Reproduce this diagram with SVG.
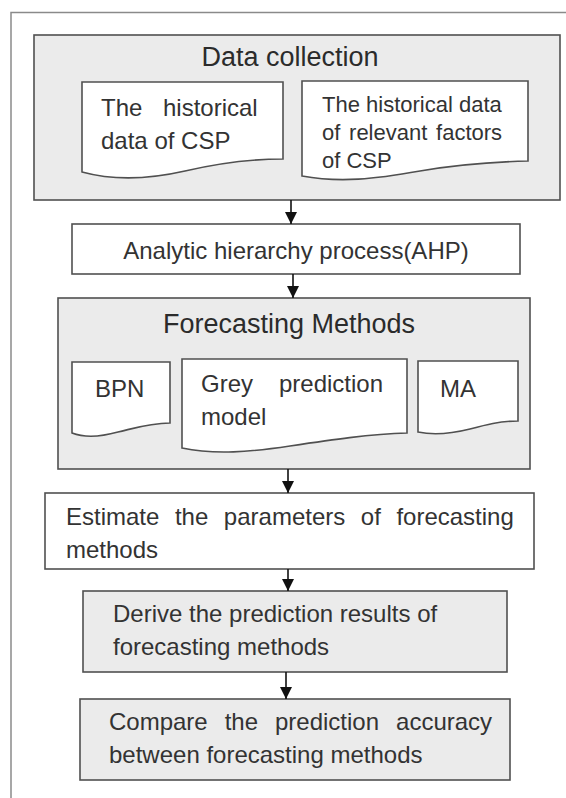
<svg xmlns="http://www.w3.org/2000/svg" width="566" height="798" viewBox="0 0 566 798">
  <style>
    .frame { fill: none; stroke: #8a8a8a; stroke-width: 1.5; }
    .group { fill: #ebebeb; stroke: #505050; stroke-width: 1.6; }
    .box { fill: #ffffff; stroke: #505050; stroke-width: 1.6; }
    .step { fill: #ebebeb; stroke: #505050; stroke-width: 1.6; }
    .doc { fill: #ffffff; stroke: #505050; stroke-width: 1.6; }
    .title { font-family: "Liberation Sans", Arial, sans-serif; font-size: 27px; fill: #2b2b2b; }
    .txt { font-family: "Liberation Sans", Arial, sans-serif; font-size: 24px; fill: #333333; }
    .small { font-family: "Liberation Sans", Arial, sans-serif; font-size: 22px; fill: #333333; }
    .link { stroke: #111111; stroke-width: 1.6; fill: none; marker-end: url(#head); }
  </style>
  <defs>
    <marker id="head" viewBox="0 0 12 12" refX="12" refY="6" markerWidth="12" markerHeight="12" markerUnits="userSpaceOnUse" orient="auto">
      <path d="M0,0 L12,6 L0,12 Z" fill="#111111"/>
    </marker>
  </defs>

  <rect width="566" height="798" fill="#ffffff"/>

  <!-- outer frame (top and left sides) -->
  <path class="frame" d="M11,798 V12.5 H566"/>

  <!-- Data collection group -->
  <g id="data-collection">
    <rect class="group" x="34" y="35" width="526" height="165"/>
    <text class="title" x="290" y="66" text-anchor="middle">Data collection</text>
  </g>

  <g id="historical-data">
    <path class="doc" d="M82,82 H283 V159 C245,159 215,164 185,171 C150,179 115,181 82,172 Z"/>
    <text class="txt" y="116"><tspan x="101">The</tspan><tspan x="163">historical</tspan></text>
    <text class="txt" x="101" y="149">data of CSP</text>
  </g>

  <g id="relevant-factors">
    <path class="doc" d="M302,81 H528 V161 C490,162 455,165 420,171 C375,179 340,183 302,176 Z"/>
    <text class="small" x="322" y="112">The historical data</text>
    <text class="small" x="322" y="140" word-spacing="2.6">of relevant factors</text>
    <text class="small" x="322" y="168">of CSP</text>
  </g>

  <!-- AHP step -->
  <g id="ahp">
    <rect class="box" x="72" y="224" width="448" height="50"/>
    <text class="txt" x="296" y="259" text-anchor="middle">Analytic hierarchy process(AHP)</text>
  </g>

  <!-- Forecasting methods group -->
  <g id="forecasting-methods">
    <rect class="group" x="58" y="298" width="472" height="171"/>
    <text class="title" x="289" y="333" text-anchor="middle">Forecasting Methods</text>
  </g>

  <g id="bpn">
    <path class="doc" d="M72,362 H170 V423 C150,423 135,428 118,432 C100,437 85,438 72,433 Z"/>
    <text class="txt" x="95" y="397">BPN</text>
  </g>

  <g id="grey-model">
    <path class="doc" d="M182,359 H407 V433 C370,434 330,440 290,446 C250,452 215,455 182,448 Z"/>
    <text class="txt" y="392"><tspan x="201">Grey</tspan><tspan x="279">prediction</tspan></text>
    <text class="txt" x="201" y="425">model</text>
  </g>

  <g id="ma">
    <path class="doc" d="M418,361 H518 V421 C500,421 485,425 470,429 C450,434 432,435 418,432 Z"/>
    <text class="txt" x="440" y="397">MA</text>
  </g>

  <!-- Estimate parameters -->
  <g id="estimate">
    <rect class="box" x="45" y="493" width="489" height="76"/>
    <text class="txt" x="66" y="525" word-spacing="8.9">Estimate the parameters of forecasting</text>
    <text class="txt" x="66" y="558">methods</text>
  </g>

  <!-- Derive results -->
  <g id="derive">
    <rect class="step" x="83" y="591" width="424" height="81"/>
    <text class="txt" x="113" y="622">Derive the prediction results of</text>
    <text class="txt" x="113" y="655">forecasting methods</text>
  </g>

  <!-- Compare accuracy -->
  <g id="compare">
    <rect class="step" x="80" y="699" width="430" height="81"/>
    <text class="txt" x="109" y="730" word-spacing="10.3">Compare the prediction accuracy</text>
    <text class="txt" x="109" y="763">between forecasting methods</text>
  </g>

  <!-- connectors -->
  <g id="connectors">
    <line class="link" x1="291" y1="200" x2="291" y2="224"/>
    <line class="link" x1="293" y1="274" x2="293" y2="298"/>
    <line class="link" x1="288" y1="469" x2="288" y2="493"/>
    <line class="link" x1="288" y1="569" x2="288" y2="591"/>
    <line class="link" x1="286" y1="672" x2="286" y2="699"/>
  </g>
</svg>
